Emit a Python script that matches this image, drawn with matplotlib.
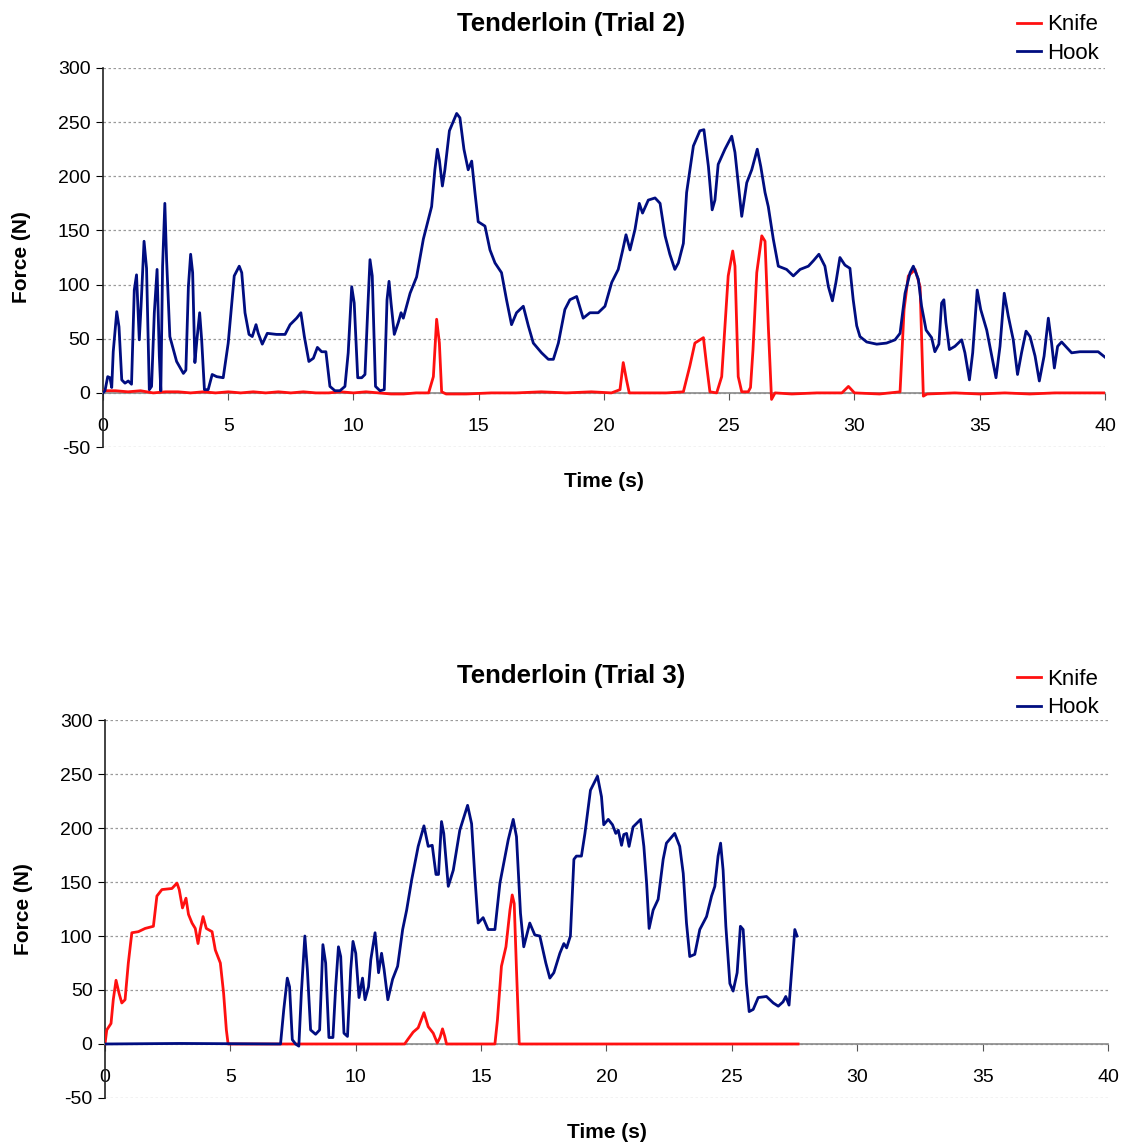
import matplotlib
matplotlib.use("Agg")
import matplotlib.pyplot as plt

plt.rcParams['font.family'] = ['Liberation Sans', 'DejaVu Sans']
plt.rcParams['axes.unicode_minus'] = False

# ---- Trial 2 data ----
hook2_t = [0.0, 0.08, 0.19, 0.28, 0.35, 0.41, 0.55, 0.64, 0.75, 0.88, 1.01, 1.14, 1.25, 1.34, 1.45,
           1.52, 1.64, 1.74, 1.85, 1.94, 2.05, 2.16, 2.25, 2.31, 2.38, 2.47, 2.54, 2.67, 2.94, 3.21,
           3.31, 3.41, 3.50, 3.58, 3.67, 3.75, 3.86, 3.94, 4.05, 4.2, 4.36, 4.54, 4.80, 5.0, 5.24,
           5.44, 5.54, 5.67, 5.83, 5.96, 6.11, 6.2, 6.36, 6.56, 6.93, 7.27, 7.47, 7.73, 7.90, 8.04,
           8.22, 8.4, 8.56, 8.73, 8.90, 9.06, 9.26, 9.46, 9.66, 9.79, 9.93, 10.03, 10.17, 10.33, 10.46,
           10.57, 10.66, 10.75, 10.88, 11.06, 11.23, 11.34, 11.42, 11.5, 11.63, 11.79, 11.9, 11.99,
           12.26, 12.52, 12.79, 13.12, 13.25, 13.35, 13.43, 13.55, 13.65, 13.83, 14.12, 14.25, 14.41,
           14.58, 14.72, 14.85, 14.98, 15.25, 15.45, 15.65, 15.91, 16.11, 16.31, 16.51, 16.78, 16.98,
           17.18, 17.51, 17.78, 17.98, 18.18, 18.44, 18.64, 18.91, 19.17, 19.44, 19.77, 20.04, 20.31,
           20.57, 20.75, 20.88, 21.04, 21.24, 21.41, 21.54, 21.77, 22.04, 22.24, 22.44, 22.63, 22.83,
           22.97, 23.17, 23.30, 23.57, 23.83, 23.99, 24.17, 24.32, 24.43, 24.56, 24.83, 25.1, 25.23,
           25.5, 25.7, 25.9, 26.12, 26.26, 26.43, 26.56, 26.76, 26.96, 27.29, 27.56, 27.83, 28.16,
           28.36, 28.58, 28.82, 28.96, 29.12, 29.26, 29.42, 29.62, 29.82, 29.95, 30.09, 30.22, 30.49,
           30.89, 31.28, 31.62, 31.82, 32.02, 32.22, 32.35, 32.55, 32.68, 32.86, 33.08, 33.21, 33.37,
           33.48, 33.57, 33.65, 33.79, 34.01, 34.28, 34.41, 34.59, 34.72, 34.9, 35.04, 35.28, 35.48,
           35.65, 35.81, 35.98, 36.14, 36.34, 36.51, 36.67, 36.85, 37.01, 37.21, 37.38, 37.57, 37.74,
           37.87, 37.98, 38.11, 38.27, 38.47, 38.67, 39.0, 39.73, 40.0]
hook2_f = [0, 2, 15, 14, 5, 38, 75, 61, 12, 9, 11, 8, 95, 109, 49,
           80, 140, 115, 3, 6, 74, 114, 34, 2, 117, 175, 123, 52, 29, 18,
           21, 98, 128, 111, 28, 49, 74, 49, 3, 3, 17, 15, 14, 46, 108,
           117, 111, 74, 54, 52, 63, 55, 45, 55, 54, 54, 63, 69, 74, 52,
           29, 32, 42, 38, 38, 6, 2, 2, 6, 37, 98, 83, 14, 14, 17,
           77, 123, 108, 6, 2, 3, 86, 103, 83, 54, 65, 74, 69,
           92, 107, 142, 172, 206, 225, 215, 191, 206, 242, 258, 254, 225,
           206, 214, 185, 158, 154, 132, 120, 111, 86, 63, 74, 80, 62,
           46, 37, 31, 31, 46, 77, 86, 89, 69, 74, 74, 80, 102,
           114, 132, 146, 132, 151, 175, 166, 178, 180, 175, 145, 128, 114,
           120, 138, 185, 228, 242, 243, 209, 169, 178, 211, 225, 237, 222,
           163, 194, 206, 225, 209, 185, 172, 142, 117, 114, 108, 114, 117,
           122, 128, 117, 98, 85, 102, 125, 118, 115, 86, 62, 52, 47,
           45, 46, 49, 55, 92, 111, 117, 105, 80, 58, 51, 38, 45,
           83, 86, 65, 40, 43, 49, 37, 12, 37, 95, 77, 58, 34,
           14, 43, 92, 71, 49, 17, 37, 57, 52, 34, 11, 34, 69,
           46, 23, 43, 47, 42, 37, 38, 38, 33]

knife2_t = [0.0, 0.5, 1.0, 1.5, 2.0, 2.5, 3.0, 3.5, 4.0, 4.5, 5.0, 5.5, 6.0, 6.5, 7.0, 7.5, 8.0,
            8.5, 9.0, 9.5, 10.0, 10.5, 11.0, 11.5, 12.0, 12.5, 13.0, 13.19, 13.32, 13.43, 13.52,
            13.7, 14.5, 15.5, 16.5, 17.5, 18.5, 19.5, 20.3, 20.64, 20.77, 20.9, 21.01, 21.5, 22.5,
            23.17, 23.43, 23.63, 23.97, 24.1, 24.23, 24.5, 24.7, 24.96, 25.14, 25.23, 25.36, 25.5,
            25.76, 25.85, 25.95, 26.1, 26.3, 26.43, 26.56, 26.69, 26.83, 27.5, 28.5, 29.5, 29.76,
            30.0, 31.0, 31.82, 31.98, 32.15, 32.42, 32.62, 32.75, 32.9, 34.0, 35.0, 36.0, 37.0,
            38.0, 39.0, 40.0]
knife2_f = [2, 2, 1, 2, 0, 1, 1, 0, 1, 0, 1, 0, 1, 0, 1, 0, 1,
            0, 0, 1, 0, 1, 0, -1, -1, 0, 0, 15, 68, 46, 1,
            -1, -1, 0, 0, 1, 0, 1, 0, 3, 28, 12, 0, 0, 0,
            1, 25, 46, 51, 25, 1, 0, 15, 108, 131, 117, 15, 1,
            1, 5, 40, 111, 145, 140, 62, -6, 0, -1, 0, 0, 6,
            0, -1, 1, 77, 108, 114, 98, -3, -1, 0, -1, 0, -1,
            0, 0, 0]

# ---- Trial 3 data ----
hook3_t = [0.0, 3.0, 7.0, 7.13, 7.27, 7.36, 7.47, 7.6, 7.73, 7.83, 7.97, 8.07, 8.2, 8.4, 8.56,
           8.69, 8.8, 8.93, 9.09, 9.2, 9.31, 9.4, 9.53, 9.67, 9.8, 9.89, 10.0, 10.13, 10.27, 10.37,
           10.51, 10.6, 10.77, 10.91, 11.03, 11.13, 11.28, 11.47, 11.67, 11.87, 12.03, 12.23, 12.49,
           12.72, 12.89, 13.05, 13.2, 13.3, 13.42, 13.51, 13.69, 13.89, 14.15, 14.46, 14.62, 14.75,
           14.88, 15.08, 15.28, 15.55, 15.75, 16.08, 16.28, 16.41, 16.57, 16.7, 16.94, 17.14, 17.34,
           17.58, 17.74, 17.9, 18.14, 18.3, 18.41, 18.56, 18.7, 18.8, 19.0, 19.14, 19.36, 19.64,
           19.8, 19.89, 20.07, 20.24, 20.37, 20.47, 20.6, 20.69, 20.8, 20.9, 21.06, 21.36, 21.49,
           21.6, 21.7, 21.86, 22.06, 22.26, 22.39, 22.72, 22.92, 23.06, 23.19, 23.32, 23.52, 23.72,
           23.99, 24.19, 24.32, 24.45, 24.55, 24.65, 24.76, 24.92, 25.05, 25.21, 25.34, 25.45, 25.58,
           25.69, 25.85, 26.05, 26.38, 26.65, 26.85, 27.04, 27.15, 27.28, 27.38, 27.51, 27.6]
hook3_f = [0, 0.5, 0, 32, 61, 53, 4, 0, -2, 47, 100, 69, 13, 9, 13,
           92, 75, 6, 6, 53, 90, 81, 10, 7, 69, 95, 84, 43, 61, 41,
           53, 78, 103, 66, 84, 69, 41, 60, 72, 106, 124, 152, 183,
           202, 183, 184, 157, 157, 206, 195, 146, 161, 198, 221, 204, 155,
           112, 117, 106, 106, 149, 189, 208, 192, 121, 90, 112, 101, 100,
           75, 61, 66, 84, 93, 89, 100, 171, 174, 174, 195, 235, 248,
           229, 203, 208, 203, 195, 198, 184, 194, 195, 183, 201, 208, 183,
           149, 107, 124, 134, 171, 186, 195, 183, 158, 112, 81, 83, 106,
           118, 137, 146, 174, 186, 161, 109, 56, 49, 66, 109, 106, 56,
           30, 32, 43, 44, 38, 35, 39, 44, 36, 66, 106, 100]

knife3_t = [0.0, 0.07, 0.24, 0.33, 0.44, 0.56, 0.67, 0.8, 0.93, 1.07, 1.33, 1.6, 1.93, 2.07, 2.27,
            2.67, 2.87, 2.96, 3.09, 3.23, 3.33, 3.47, 3.6, 3.71, 3.8, 3.91, 4.04, 4.27, 4.4, 4.6,
            4.73, 4.84, 4.91, 8.0, 11.95, 12.07, 12.29, 12.49, 12.72, 12.89, 13.09, 13.25, 13.36,
            13.46, 13.55, 13.62, 15.55, 15.65, 15.81, 15.99, 16.15, 16.24, 16.32, 16.41, 16.52,
            20.0, 27.64]
knife3_f = [0, 13, 19, 41, 59, 47, 38, 41, 75, 103, 104, 107, 109, 137, 143,
            144, 149, 143, 126, 135, 120, 112, 107, 93, 106, 118, 107, 104, 87, 75,
            47, 13, 0, 0, 0, 4, 11, 15, 29, 16, 10, 1, 6,
            14, 7, 0, 0, 22, 72, 90, 124, 138, 130, 69, 0,
            0, 0]

knife_color = '#ff1010'
hook_color = '#000d80'

fig = plt.figure(figsize=(11.29, 11.46), dpi=100)


def draw_panel(rect, title, title_y, leg_y, kt, kf, ht, hf):
    ax = fig.add_axes(rect)
    ax.plot(kt, kf, color=knife_color, lw=2.0, label='Knife', zorder=3)
    ax.plot(ht, hf, color=hook_color, lw=2.0, label='Hook', zorder=4)
    ax.set_xlim(0, 40)
    ax.set_ylim(-50, 300)
    ax.set_xticks(range(0, 41, 5))
    ax.set_yticks(range(-50, 301, 50))
    ax.yaxis.grid(True, linestyle=(0, (2, 2)), color='#9a9a9a', lw=0.9)
    ax.set_axisbelow(True)
    for s in ['top', 'right']:
        ax.spines[s].set_visible(False)
    ax.spines['bottom'].set_position(('data', 0))
    ax.spines['bottom'].set_color('#8a8a8a')
    ax.spines['bottom'].set_linewidth(1.2)
    ax.spines['left'].set_color('#222222')
    ax.spines['left'].set_linewidth(1.2)
    ax.tick_params(axis='x', length=5, pad=13, labelsize=14, color='#555555')
    ax.tick_params(axis='y', length=5, pad=4, labelsize=14)
    ax.text(0.5, -0.092, 'Time (s)', transform=ax.transAxes, ha='center', va='center',
            fontsize=15, fontweight='bold')
    ax.text(-0.081, 0.5, 'Force (N)', transform=ax.transAxes, ha='center', va='center',
            rotation=90, fontsize=15, fontweight='bold')
    fig.text(0.506, title_y, title, ha='center', va='center', fontsize=18.5, fontweight='bold')
    fig.legend(*ax.get_legend_handles_labels(), loc='upper right',
               bbox_to_anchor=(0.973, leg_y), frameon=False, fontsize=16,
               handlelength=1.1, handletextpad=0.25, labelspacing=0.35,
               borderaxespad=0, borderpad=0)
    return ax


draw_panel([0.0912, 0.6099, 0.8875, 0.3308], 'Tenderloin (Trial 2)', 0.979, 0.9875,
           knife2_t, knife2_f, hook2_t, hook2_f)
draw_panel([0.0930, 0.0419, 0.8884, 0.3298], 'Tenderloin (Trial 3)', 0.410, 0.4166,
           knife3_t, knife3_f, hook3_t, hook3_f)

fig.savefig('out.png', dpi=100)
